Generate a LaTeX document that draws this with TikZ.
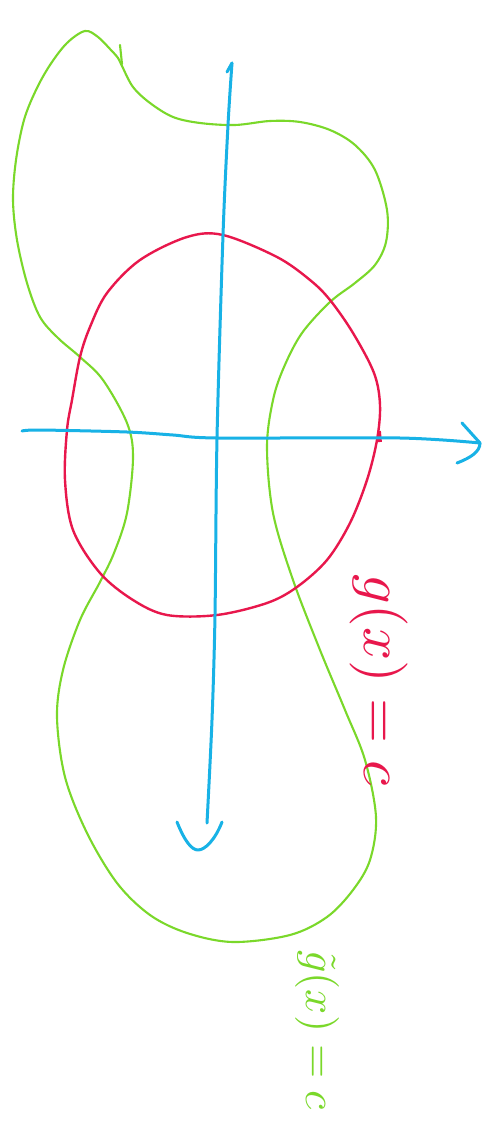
\documentclass[tikz,border=0pt]{standalone}
\usepackage{graphicx}
\definecolor{gcol}{HTML}{7AD82A}
\definecolor{rcol}{HTML}{E8174C}
\definecolor{bcol}{HTML}{18B2E6}
\tikzset{
  gline/.style={draw=gcol, line width=2.1pt, line cap=round, line join=round},
  rline/.style={draw=rcol, line width=2.4pt, line cap=round, line join=round},
  bline/.style={draw=bcol, line width=3pt, line cap=round, line join=round},
  rlabel/.style={text=rcol, rotate=-90, inner sep=0pt},
  glabel/.style={text=gcol, rotate=-90, inner sep=0pt}
}
\begin{document}
\begin{tikzpicture}[x=1pt,y=-1pt]
\useasboundingbox (0,0) rectangle (493,1123);
\fill[white] (0,0) rectangle (493,1123);
% green curve g~(x)=c
\draw[gline] plot[smooth cycle, tension=0.55] coordinates {
 (122,66) (133,87) (150,103) (173,117) (200,123) (235,125) (270,121) (300,122)
 (330,130) (355,145) (375,170) (387,210) (386,242) (375,265) (355,283) (330,302)
 (302,333) (284,367) (273,400) (267,447) (273,513) (293,580) (320,650) (345,710)
 (365,760) (376,817) (370,860) (353,890) (327,917) (290,935) (233,942) (187,933)
 (150,915) (117,883) (87,833) (65,777) (57,717) (63,670) (80,620) (100,582)
 (114,553) (127,513) (133,457) (127,423) (103,380) (80,357) (58,338) (40,317)
 (27,283) (17,240) (13,200) (16,160) (24,120) (36,90) (50,65) (67,43) (85,31)
 (98,37) (110,49) (118,58)};
\draw[gline] (120,45) -- (122,64);
% red curve g(x)=c
\draw[rline] plot[smooth cycle, tension=0.55] coordinates {
 (223,235) (187,237) (140,260) (107,293) (90,327) (80,357) (72,400) (67,430)
 (65,480) (73,530) (100,573) (133,600) (167,615) (217,615) (267,603) (297,587)
 (327,560) (350,523) (367,480) (377,440) (380,405) (374,373) (353,333) (330,300)
 (310,280) (277,257)};
\draw[rcol, line width=3.8pt] (379,431) -- (380,442);
% axes
\coordinate (hl) at (22,431);
\coordinate (hr) at (480,443);
\draw[bline] plot[smooth, tension=0.5] coordinates {(hl) (40,430) (127,432) (173,435) (217,438) (400,438) (hr)};
\draw[bline] (462,423) -- (hr);
\draw[bline] (hr) .. controls (480,452) and (470,458) .. (457,463);
\coordinate (vt) at (232,63);
\coordinate (vb) at (207,823);
\draw[bline] plot[smooth, tension=0.5] coordinates {(vt) (228,125) (223,235) (217,438) (215,615) (212,720) (vb)};
\draw[bline] (227,72) -- (vt);
\draw[bline] (177,822) .. controls (185,842) and (192,850) .. (198,850) .. controls (205,850) and (215,840) .. (222,822);
% labels
\node[rlabel] (rl) at (379,680) {\scalebox{5.8}{$g(x) = c$}};
\node[glabel] (gl) at (317,1030) {\scalebox{4.4}{$\tilde g(x) = c$}};
\end{tikzpicture}
\end{document}
